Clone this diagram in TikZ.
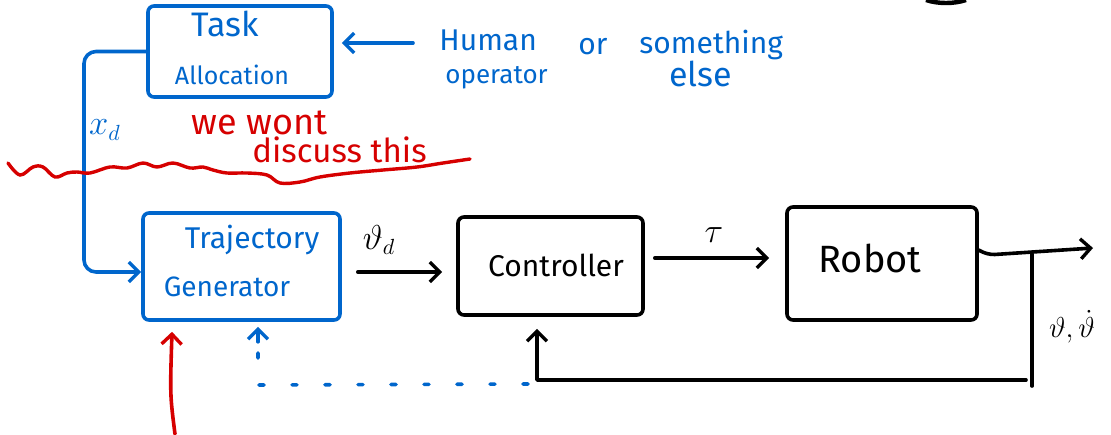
\documentclass[tikz,border=0pt]{standalone}
\usepackage{fontspec}
\setmainfont{Fira Sans}
\usetikzlibrary{arrows.meta,fit,calc}
\definecolor{pen}{RGB}{0,102,204}
\definecolor{redpen}{RGB}{214,0,0}

\begin{document}
\begin{tikzpicture}[x=0.5pt,y=-0.5pt,
  txt/.style={inner sep=0pt, font=\fontsize{#1}{#1}\selectfont},
  txt/.default=14,
  box/.style={draw, line width=1.8pt, rounded corners=3pt, inner sep=0pt},
  wire/.style={line width=1.8pt, line cap=round, line join=round},
  tip/.style={-{Straight Barb[length=5pt,width=10pt,line width=1.7pt]}},
  dotline/.style={line width=1.8pt, line cap=round, dash pattern=on 2.5pt off 14pt}]
\useasboundingbox (0,0) rectangle (1111,434);

% ---- blocks ----
\node[box, pen, fit={(148,6)(332,97)}] (task) {};
\node[box, pen, fit={(143,213)(340,320)}] (traj) {};
\node[box, fit={(458,217)(643,315)}] (ctrl) {};
\node[box, fit={(787,207)(977,320)}] (robot) {};

% ---- block texts ----
\node[txt=17, pen] at (225,24) {Task};
\node[txt=12.5, pen] at (232,75) {Allocation};
\node[txt=15, pen] at (252,240) {Trajectory};
\node[txt=14, pen] at (227,287) {Generator};
\node[txt=15] at (556,265) {Controller};
\node[txt=19] at (870,258) {Robot};

% ---- side notes ----
\node[txt=15, pen, anchor=west] (human) at (439,40) {Human};
\node[txt=15, pen, anchor=west] at (578,47) {or};
\node[txt=15, pen, anchor=west] at (639,45) {something};
\node[txt=13, pen, anchor=west] at (445,78) {operator};
\node[txt=17, pen, anchor=west] at (669,74) {else};
\node[txt=18, redpen, anchor=west] at (191,123) {we wont};
\node[txt=16.5, redpen, anchor=west] at (252,150) {discuss this};

% ---- signal labels ----
\node[txt=16, pen] at (105,130) {$x_d$};
\node[txt=16] at (379,240) {$\vartheta_d$};
\node[txt=16] at (714,235) {$\tau$};
\node[txt=14] at (1072,327) {$\vartheta,\dot\vartheta$};

% ---- connectors ----
\coordinate (hin) at (413,43);
\draw[wire, pen, tip, shorten >=4pt] (hin) -- (task.east |- hin);

\coordinate (lx) at (84,272);
\draw[wire, pen, tip, rounded corners=6pt]
  (task.west) -| (lx) -- (traj.west |- lx);

\coordinate (qy) at (0,272);
\draw[wire, tip, shorten <=8pt, shorten >=7pt] (traj.east |- qy) -- (ctrl.west |- qy);

\coordinate (ty) at (0,258);
\draw[wire, tip, shorten <=5pt, shorten >=8pt] (ctrl.east |- ty) -- (robot.west |- ty);

\coordinate (out) at (1093,248);
\coordinate (br) at (1032,254);
\coordinate (fb) at (537,380);
\draw[wire, tip, rounded corners=4pt] (robot.east |- 0,250) -- ++(8,5) -- (out);
\draw[wire] (br) -- (1032,386);
\draw[wire, tip, shorten >=6pt] (1026,380) -- (fb) -- (fb |- ctrl.south);

\coordinate (dl) at (258,385);
\draw[dotline, pen] (528,384) -- (dl) -- (258,337);
\draw[wire, pen, tip] ($(dl |- traj.south)+(0,20)$) -- ($(dl |- traj.south)+(0,5)$);

\coordinate (rin) at (175,434);
\draw[wire, redpen, tip] (rin) .. controls (170,395) .. ($(traj.south -| 172,0)+(0,10)$);

% ---- red separator ----
\draw[line width=1.7pt, redpen, line cap=round] plot[smooth, tension=0.6] coordinates {
  (8,163) (20,175) (33,167) (43,167) (55,177) (67,173) (77,172) (90,173)
  (110,167) (127,168) (143,163) (157,167) (173,163) (190,168) (203,167)
  (213,170) (227,173) (247,173) (267,175) (280,183) (300,182) (320,177)
  (350,173) (383,170) (417,167) (443,163) (470,159)};

% ---- edge of a shape cut off at the top ----
\draw[line width=2.2pt] (926,0) .. controls (938,4) and (954,4) .. (966,0);
\end{tikzpicture}
\end{document}
